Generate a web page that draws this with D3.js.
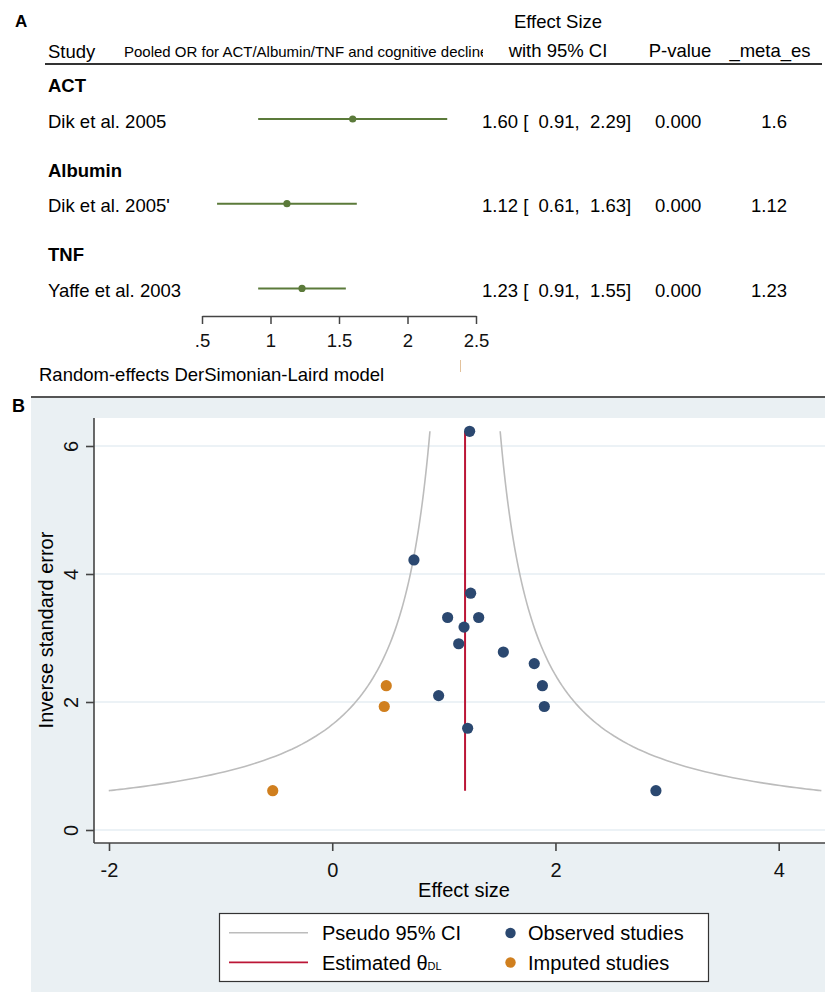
<!DOCTYPE html>
<html>
<head>
<meta charset="utf-8">
<script src="https://cdn.jsdelivr.net/npm/d3@7"></script>
<style>
  body { margin: 0; background: #fff; }
  svg { display: block; font-family: "Liberation Sans", Arial, sans-serif; }
</style>
</head>
<body>
<div id="chart"></div>
<script>
// panel A data (forest plot)
let groups = ["ACT", "Albumin", "TNF"];
let studies = ["Dik et al. 2005", "Dik et al. 2005'", "Yaffe et al. 2003"];
let effect = [1.60, 1.12, 1.23];
let ciLow = [0.91, 0.61, 0.91];
let ciHigh = [2.29, 1.63, 1.55];
let pValues = ["0.000", "0.000", "0.000"];
let metaEs = ["1.6", "1.12", "1.23"];
let forestTicks = [0.5, 1, 1.5, 2, 2.5];
let forestTickLabels = [".5", "1", "1.5", "2", "2.5"];

// panel B data (funnel plot)
let thetaDL = 1.19;
let observedEs = [1.231, 0.732, 1.240, 1.034, 1.312, 1.181, 1.133, 1.533, 1.81, 1.883, 0.953, 1.90, 1.213, 2.90];
let observedPrec = [6.23, 4.22, 3.70, 3.32, 3.32, 3.17, 2.91, 2.78, 2.60, 2.255, 2.10, 1.93, 1.59, 0.614];
let imputedEs = [0.484, 0.466, -0.533];
let imputedPrec = [2.255, 1.93, 0.614];
let funnelXTicks = [-2, 0, 2, 4];
let funnelYTicks = [0, 2, 4, 6];

let svgWidth = 825;
let svgHeight = 992;

let svg = d3.select("#chart")
  .append("svg")
  .attr("width", svgWidth)
  .attr("height", svgHeight);

let green = "#5b7a3a";
let fs = 18.5;

// ---------- Panel A ----------
let panelA = svg.append("g");

panelA.append("text").attr("x", 15).attr("y", 27)
  .attr("font-size", 17).attr("font-weight", "bold").text("A");

// header
panelA.append("text").attr("x", 48).attr("y", 58).attr("font-size", fs).text("Study");

panelA.append("clipPath").attr("id", "titleClip")
  .append("rect").attr("x", 120).attr("y", 30).attr("width", 363).attr("height", 40);

panelA.append("text").attr("x", 124).attr("y", 57)
  .attr("clip-path", "url(#titleClip)")
  .attr("font-size", 15)
  .text("Pooled OR for ACT/Albumin/TNF and cognitive decline");

panelA.append("text").attr("x", 558).attr("y", 28).attr("text-anchor", "middle")
  .attr("font-size", fs).text("Effect Size");
panelA.append("text").attr("x", 558).attr("y", 57).attr("text-anchor", "middle")
  .attr("font-size", fs).text("with 95% CI");
panelA.append("text").attr("x", 680).attr("y", 57).attr("text-anchor", "middle")
  .attr("font-size", fs).text("P-value");
panelA.append("text").attr("x", 770).attr("y", 57).attr("text-anchor", "middle")
  .attr("font-size", fs).text("_meta_es");

panelA.append("line")
  .attr("x1", 45).attr("x2", 822).attr("y1", 64).attr("y2", 64)
  .attr("stroke", "#333").attr("stroke-width", 2);

let xForest = d3.scaleLinear().domain([0.5, 2.5]).range([202, 476]);

let rowY = d3.scaleLinear().domain([0, 1]).range([92, 176.7]);

groups.forEach(function(g, i) {
  let gy = rowY(i);
  let sy = gy + 35.5;
  let ly = sy - 8.5;

  panelA.append("text").attr("x", 48).attr("y", gy)
    .attr("font-size", fs).attr("font-weight", "bold").text(g);

  panelA.append("text").attr("x", 48).attr("y", sy)
    .attr("font-size", fs).text(studies[i]);

  panelA.append("line")
    .attr("x1", xForest(ciLow[i])).attr("x2", xForest(ciHigh[i]))
    .attr("y1", ly).attr("y2", ly)
    .attr("stroke", green).attr("stroke-width", 2);

  panelA.append("circle")
    .attr("cx", xForest(effect[i])).attr("cy", ly).attr("r", 3.6)
    .attr("fill", green);

  panelA.append("text").attr("x", 482).attr("y", sy)
    .attr("font-size", fs).attr("xml:space", "preserve").style("white-space", "pre")
    .text(effect[i].toFixed(2) + " [  " + ciLow[i].toFixed(2) + ",  " + ciHigh[i].toFixed(2) + "]");

  panelA.append("text").attr("x", 655).attr("y", sy)
    .attr("font-size", fs).text(pValues[i]);

  panelA.append("text").attr("x", 787).attr("y", sy).attr("text-anchor", "end")
    .attr("font-size", fs).text(metaEs[i]);
});

// forest axis
let forestAxis = panelA.append("g")
  .attr("transform", "translate(0, 316)")
  .call(d3.axisBottom(xForest).tickValues(forestTicks)
    .tickFormat((d, i) => forestTickLabels[i]).tickSize(8).tickSizeOuter(0));
forestAxis.select(".domain").attr("stroke", "#444").attr("stroke-width", 1.5);
forestAxis.selectAll(".tick line").attr("stroke", "#444").attr("stroke-width", 1.5);
forestAxis.selectAll(".tick text")
  .attr("font-size", fs).attr("font-family", "Liberation Sans, Arial, sans-serif")
  .attr("fill", "#111").attr("dy", null).attr("y", 31);

panelA.append("text").attr("x", 39).attr("y", 381)
  .attr("font-size", fs).text("Random-effects DerSimonian-Laird model");

panelA.append("line")
  .attr("x1", 460.5).attr("x2", 460.5).attr("y1", 360).attr("y2", 372)
  .attr("stroke", "#e3c29c").attr("stroke-width", 1);

// ---------- Panel B ----------
let panelB = svg.append("g");

panelB.append("rect")
  .attr("x", 31).attr("y", 397).attr("width", svgWidth - 31).attr("height", svgHeight - 397)
  .attr("fill", "#eaf0f3");
panelB.append("line")
  .attr("x1", 31).attr("x2", svgWidth).attr("y1", 397).attr("y2", 397)
  .attr("stroke", "#555").attr("stroke-width", 2);

panelB.append("text").attr("x", 12).attr("y", 412)
  .attr("font-size", 18).attr("font-weight", "bold").text("B");

let plotLeft = 94, plotTop = 418, plotBottom = 843, plotRight = svgWidth;

panelB.append("rect")
  .attr("x", plotLeft).attr("y", plotTop)
  .attr("width", plotRight - plotLeft).attr("height", plotBottom - plotTop)
  .attr("fill", "#fff");

let xFunnel = d3.scaleLinear().domain([-2, 4]).range([109, 778.7]);
let yFunnel = d3.scaleLinear().domain([0, 6]).range([830, 446]);

// gridlines
panelB.selectAll(".grid")
  .data(funnelYTicks)
  .enter()
  .append("line")
  .attr("x1", plotLeft).attr("x2", plotRight)
  .attr("y1", d => yFunnel(d)).attr("y2", d => yFunnel(d))
  .attr("stroke", "#e6eef3").attr("stroke-width", 1.5);

// pseudo 95% CI curves
let z = 1.96;
let precMin = d3.min(observedPrec.concat(imputedPrec));
let precMax = d3.max(observedPrec.concat(imputedPrec));
let precGrid = d3.range(0, 101).map(i => precMin + (precMax - precMin) * Math.pow(i / 100, 2));

let curve = d3.line()
  .x(d => xFunnel(d[0]))
  .y(d => yFunnel(d[1]));

panelB.append("path")
  .datum(precGrid.map(p => [thetaDL - z / p, p]))
  .attr("d", curve).attr("fill", "none")
  .attr("stroke", "#bcbcbc").attr("stroke-width", 1.6);
panelB.append("path")
  .datum(precGrid.map(p => [thetaDL + z / p, p]))
  .attr("d", curve).attr("fill", "none")
  .attr("stroke", "#bcbcbc").attr("stroke-width", 1.6);

// estimated theta line
panelB.append("line")
  .attr("x1", xFunnel(thetaDL)).attr("x2", xFunnel(thetaDL))
  .attr("y1", yFunnel(precMin)).attr("y2", yFunnel(precMax))
  .attr("stroke", "#bb1636").attr("stroke-width", 2);

// observed studies
panelB.selectAll(".obs")
  .data(observedEs)
  .enter()
  .append("circle")
  .attr("cx", d => xFunnel(d))
  .attr("cy", (d, i) => yFunnel(observedPrec[i]))
  .attr("r", 5.6)
  .attr("fill", "#2b4870");

// imputed studies
panelB.selectAll(".imp")
  .data(imputedEs)
  .enter()
  .append("circle")
  .attr("cx", d => xFunnel(d))
  .attr("cy", (d, i) => yFunnel(imputedPrec[i]))
  .attr("r", 5.6)
  .attr("fill", "#d07f1e");

// axes lines
panelB.append("line")
  .attr("x1", plotLeft).attr("x2", plotLeft).attr("y1", plotTop).attr("y2", plotBottom)
  .attr("stroke", "#444").attr("stroke-width", 1.6);
panelB.append("line")
  .attr("x1", plotLeft).attr("x2", plotRight).attr("y1", plotBottom).attr("y2", plotBottom)
  .attr("stroke", "#444").attr("stroke-width", 1.6);

// x axis
let xAxisB = panelB.append("g")
  .attr("transform", `translate(0, ${plotBottom})`)
  .call(d3.axisBottom(xFunnel).tickValues(funnelXTicks).tickSize(8).tickSizeOuter(0));
xAxisB.select(".domain").remove();
xAxisB.selectAll(".tick line").attr("stroke", "#444").attr("stroke-width", 1.6);
xAxisB.selectAll(".tick text")
  .attr("font-size", 20).attr("font-family", "Liberation Sans, Arial, sans-serif")
  .attr("fill", "#111").attr("dy", null).attr("y", 34)
  .text(d => d < 0 ? "-" + Math.abs(d) : d);

// y axis
let yAxisB = panelB.append("g")
  .attr("transform", `translate(${plotLeft}, 0)`)
  .call(d3.axisLeft(yFunnel).tickValues(funnelYTicks).tickFormat(d3.format("d"))
    .tickSize(8).tickSizeOuter(0));
yAxisB.select(".domain").remove();
yAxisB.selectAll(".tick line").attr("stroke", "#444").attr("stroke-width", 1.6);
yAxisB.selectAll(".tick text")
  .attr("font-size", 20).attr("font-family", "Liberation Sans, Arial, sans-serif")
  .attr("fill", "#111").attr("dy", null).attr("x", null).attr("y", null)
  .attr("text-anchor", "middle")
  .attr("transform", "translate(-16, 0) rotate(-90)");

panelB.append("text")
  .attr("transform", "translate(53, 630) rotate(-90)")
  .attr("text-anchor", "middle").attr("font-size", 20)
  .text("Inverse standard error");

panelB.append("text")
  .attr("x", 464).attr("y", 897).attr("text-anchor", "middle").attr("font-size", 20)
  .text("Effect size");

// legend
let legend = panelB.append("g");
legend.append("rect")
  .attr("x", 219.5).attr("y", 913.5).attr("width", 489).attr("height", 68)
  .attr("fill", "#fff").attr("stroke", "#333").attr("stroke-width", 1.2);

legend.append("line").attr("x1", 229).attr("x2", 308).attr("y1", 932.7).attr("y2", 932.7)
  .attr("stroke", "#bcbcbc").attr("stroke-width", 1.6);
legend.append("text").attr("x", 322).attr("y", 940).attr("font-size", 20).text("Pseudo 95% CI");

legend.append("line").attr("x1", 229).attr("x2", 308).attr("y1", 962.3).attr("y2", 962.3)
  .attr("stroke", "#bb1636").attr("stroke-width", 1.8);
let estText = legend.append("text").attr("x", 322).attr("y", 970).attr("font-size", 20);
estText.append("tspan").text("Estimated θ");
estText.append("tspan").attr("font-size", 11).text("DL");

legend.append("circle").attr("cx", 510.5).attr("cy", 933).attr("r", 5.2).attr("fill", "#2b4870");
legend.append("text").attr("x", 528).attr("y", 940).attr("font-size", 20).text("Observed studies");
legend.append("circle").attr("cx", 510.5).attr("cy", 962.5).attr("r", 5.2).attr("fill", "#d07f1e");
legend.append("text").attr("x", 528).attr("y", 970).attr("font-size", 20).text("Imputed studies");
</script>
</body>
</html>
